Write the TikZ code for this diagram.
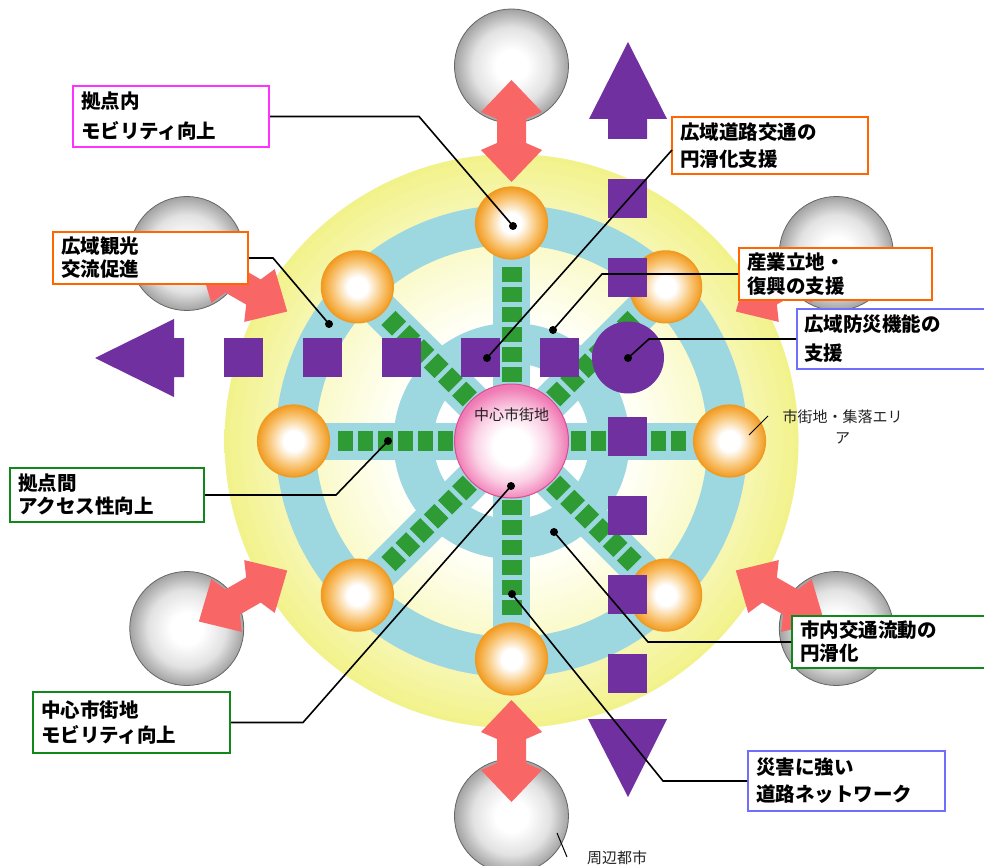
\documentclass[tikz,border=0pt]{standalone}
\usepackage{fontspec}
\newfontfamily\jp{Noto Sans CJK JP}
\definecolor{ycreamA}{HTML}{FFFFF4}
\definecolor{ycreamB}{HTML}{FAFACB}
\definecolor{ymid}{HTML}{F6F6AE}
\definecolor{yedge}{HTML}{F2F28A}
\definecolor{sblue}{HTML}{9DD7E0}
\definecolor{sgreen}{HTML}{2E9B35}
\definecolor{purp}{HTML}{7030A0}
\definecolor{salmon}{HTML}{F96666}
\definecolor{oedge}{HTML}{F29B20}
\definecolor{omid}{HTML}{F9C77A}
\definecolor{oborder}{HTML}{EE9A25}
\definecolor{pedge}{HTML}{F07AB4}
\definecolor{pmid}{HTML}{FBD2E6}
\definecolor{pborder}{HTML}{D9508F}
\definecolor{gedge}{HTML}{A2A2A2}
\definecolor{gmid}{HTML}{E2E2E2}
\definecolor{gborder}{HTML}{666666}
\definecolor{bmag}{HTML}{FF33FF}
\definecolor{bora}{HTML}{FF6600}
\definecolor{bgrn}{HTML}{11881A}
\definecolor{bblu}{HTML}{6F6FFF}
\definecolor{txt}{HTML}{222222}
\pgfdeclareradialshading{yshade}{\pgfpoint{0bp}{0bp}}{color(0bp)=(white); color(9bp)=(white); color(11bp)=(ycreamA); color(17bp)=(ycreamB); color(21bp)=(ymid); color(25bp)=(yedge); color(50bp)=(yedge)}
\pgfdeclareradialshading{oshade}{\pgfpoint{0bp}{0bp}}{color(0bp)=(white); color(7bp)=(white); color(17bp)=(omid); color(25bp)=(oedge); color(50bp)=(oedge)}
\pgfdeclareradialshading{pshade}{\pgfpoint{0bp}{-3bp}}{color(0bp)=(white); color(8bp)=(white); color(16bp)=(pmid); color(25bp)=(pedge); color(50bp)=(pedge)}
\pgfdeclareradialshading{gshade}{\pgfpoint{0bp}{0bp}}{color(0bp)=(white); color(7bp)=(white); color(17bp)=(gmid); color(25bp)=(gedge); color(50bp)=(gedge)}
\tikzset{
  lblbox/.style={draw, line width=2pt, fill=white, inner xsep=8pt, inner ysep=0pt, align=left, text=black},
  lsp/.style={font=\jp\bfseries\fontsize{19.5}{#1}\selectfont},
  smalltxt/.style={font=\jp\fontsize{15}{21}\selectfont, text=txt, inner sep=0pt, align=center},
  dot/.style={circle, fill=black, inner sep=0pt, minimum size=8pt},
  leader/.style={draw=black, line width=1.6pt},
  thinleader/.style={draw=black, line width=1pt},
  purpfill/.style={fill=purp},
  saltarrow/.style={fill=salmon},
}
\begin{document}
\begin{tikzpicture}[x=1pt, y=-1pt]
\useasboundingbox (0,0) rectangle (984,866);
\fill[white] (0,0) rectangle (984,866);
\coordinate (c) at (511.5,441);
% yellow disc
\shade[shading=yshade] (c) circle[radius=287pt];
% blue rings
\draw[sblue, line width=40pt] (c) circle[radius=216pt];
\draw[sblue, line width=40pt] (c) circle[radius=98pt];
\begin{scope}[shift={(511.5,441)}]
  \foreach \a in {0,45,...,315} {
    \fill[sblue, rotate=\a] (0,-18.5) rectangle (218,18.5);
  }
  \foreach \a in {0,45,...,315} {
    \foreach \r in {46.5,66.5,86.5,106.5,126.5,146.5,166.5} {
      \fill[sgreen, rotate=\a] (\r-7.5,-10) rectangle (\r+7.5,10);
    }
  }
\end{scope}
% central ball
\shade[shading=pshade, draw=pborder, line width=1pt] (c) circle[radius=57pt];
\begin{scope}[shift={(511.5,441)}]
  \foreach \a in {0,45,...,315} {
    \shade[shading=oshade, draw=oborder, line width=1.2pt] (\a:218) circle[radius=36pt];
  }
  \foreach \a in {30,90,150,210,270,330} {
    \shade[shading=gshade, draw=gborder, line width=0.8pt] (\a:375) circle[radius=57pt];
  }
  \foreach \a in {30,90,150,210,270,330} {
    \fill[saltarrow, rotate=\a] (361,0) -- (329,30.5) -- (322,14.5) -- (298,14.5) -- (291,30.5) -- (259,0)
      -- (291,-30.5) -- (298,-14.5) -- (322,-14.5) -- (329,-30.5) -- cycle;
  }
\end{scope}
% purple network
\fill[purpfill] (95,358) -- (174,319) -- (174,338) -- (184,338) -- (184,377) -- (174,377) -- (174,397) -- cycle;
\fill[purpfill] (628,42) -- (667,119) -- (647,119) -- (647,139) -- (608,139) -- (608,119) -- (589,119) -- cycle;
\fill[purpfill] (588,719) -- (667,719) -- (628,797) -- cycle;
\foreach \x in {243.5,322.5,401.5,480.5,559.5} {
  \fill[purpfill] (\x-19.5,338) rectangle (\x+19.5,377);
}
\foreach \y in {198.5,277.5,436.5,515.5,594.5,673.5} {
  \fill[purpfill] (608,\y-19.5) rectangle (647,\y+19.5);
}
\fill[purpfill] (628,357.5) circle[radius=36pt];
% texts on picture
\node[smalltxt] (tcenter) at (511.5,415) {中心市街地};
\node[smalltxt] (tarea) at (842.5,426.5) {市街地・集落エリ\\ア};
\node[smalltxt, anchor=west] (tcity) at (587,858) {周辺都市};
% label boxes
\node[lblbox, draw=bmag, lsp=30, minimum width=196pt, minimum height=61pt, text width=180pt] (b1) at (171,116.5) {拠点内\\モビリティ向上};
\node[lblbox, draw=bora, lsp=23, minimum width=195pt, minimum height=52pt, text width=179pt] (b2) at (150.5,258) {広域観光\\交流促進};
\node[lblbox, draw=bora, lsp=27, minimum width=196pt, minimum height=57pt, text width=180pt] (b3) at (770,145.5) {広域道路交通の\\円滑化支援};
\node[lblbox, draw=bora, lsp=24, minimum width=193pt, minimum height=52pt, text width=177pt] (b4) at (835.5,274) {産業立地・\\復興の支援};
\node[lblbox, draw=bblu, lsp=29, minimum width=203pt, minimum height=60pt, text width=189pt, inner xsep=7pt] (b5) at (898.5,339) {広域防災機能の\\支援};
\node[lblbox, draw=bgrn, lsp=23, minimum width=194pt, minimum height=54pt, text width=178pt] (b7) at (107,495) {拠点間\\アクセス性向上};
\node[lblbox, draw=bgrn, lsp=25, minimum width=197pt, minimum height=61pt, text width=181pt] (b8) at (131.5,722.5) {中心市街地\\モビリティ向上};
\node[lblbox, draw=bgrn, lsp=23, minimum width=208pt, minimum height=52pt, text width=192pt] (b9) at (896,642) {市内交通流動の\\円滑化};
\node[lblbox, draw=bblu, lsp=27, minimum width=197pt, minimum height=60pt, text width=181pt] (b10) at (846.5,781) {災害に強い\\道路ネットワーク};
% dots
\node[dot] (d1) at (513,226) {};
\node[dot] (d2) at (329,324) {};
\node[dot] (d3) at (487,358) {};
\node[dot] (d4) at (553,330) {};
\node[dot] (d5) at (628,358) {};
\node[dot] (d7) at (388,441) {};
\node[dot] (d8) at (511,486) {};
\node[dot] (d9) at (554,532) {};
\node[dot] (d10) at (512,594) {};
% leaders
\coordinate (b3in) at (672,150);
\draw[leader] (b1.east) -- ++(149,0) -- (d1.center);
\draw[leader] (b2.east) -- ++(24,0) -- (d2.center);
\draw[leader] (b3in) -- (d3.center);
\draw[leader] (b4.west) -- (602,274) -- (d4.center);
\draw[leader] (b5.west) -- ++(-147,0) -- (d5.center);
\draw[leader] (b7.east) -- ++(131,0) -- (d7.center);
\draw[leader] (b8.east) -- ++(72,0) -- (d8.center);
\draw[leader] (b9.west) -- (648,642) -- (d9.center);
\draw[leader] (b10.west) -- (663,781) -- (d10.center);
\coordinate (p6a) at (768,416);
\coordinate (p6b) at (749,435);
\draw[thinleader] (p6a) -- (p6b);
\coordinate (p11a) at (557,833);
\coordinate (p11b) at (567,857);
\draw[thinleader] (p11a) -- (p11b);
\end{tikzpicture}
\end{document}
